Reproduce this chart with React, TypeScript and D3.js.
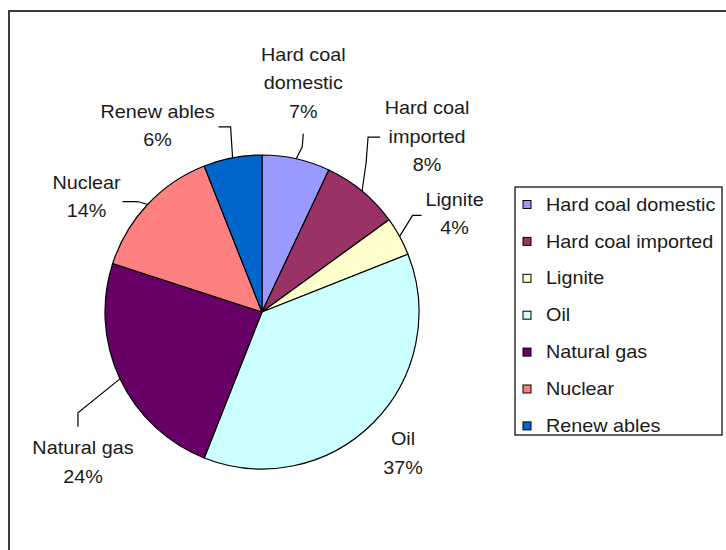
import React, { useRef, useEffect } from 'react';
import * as d3 from 'd3';

// energy mix shares, clockwise from 12 o'clock
const sources = ['Hard coal domestic', 'Hard coal imported', 'Lignite', 'Oil', 'Natural gas', 'Nuclear', 'Renewables'];
const shares = [7, 8, 4, 37, 24, 14, 6];
const labelLines = [
  ['Hard coal', 'domestic'],
  ['Hard coal', 'imported'],
  ['Lignite'],
  ['Oil'],
  ['Natural gas'],
  ['Nuclear'],
  ['Renew ables'],
];
const legendNames = ['Hard coal domestic', 'Hard coal imported', 'Lignite', 'Oil', 'Natural gas', 'Nuclear', 'Renew ables'];
const colors = ['#9999ff', '#993366', '#ffffcc', '#ccffff', '#660066', '#ff8080', '#0066cc'];

// label offsets (from the slice's outer mid point) and leader elbows
const labelOffset: [number, number][] = [[7, -104], [65, -83], [55, -37], [30, 16], [-37, 69], [-61, -22], [-75, -46]];
const leaderPts: [number, number][][] = [
  [[6, -12], [7, -25]],
  [[4, -28], [6, -54], [18, -54]],
  [[13, -21], [22, -21]],
  [],
  [[-42, 34], [-42, 48]],
  [[-10, -3], [-25, -3]],
  [[-2, -31], [-14, -31]],
];

const W = 726;
const H = 550;
const FONT = '"Liberation Sans", Arial, sans-serif';
const SX = 1.1; // text in the reference is a bit wide

const App = () => {
  const svgRef = useRef<SVGSVGElement>(null);

  useEffect(() => {
    const svg = d3.select(svgRef.current);
    svg.selectAll('*').remove();

    // outer frame (runs off the right and bottom)
    svg.append('rect')
      .attr('x', 9).attr('y', 11)
      .attr('width', W + 20).attr('height', H + 20)
      .attr('fill', '#fff')
      .attr('stroke', '#3a3a3a')
      .attr('stroke-width', 2);

    const cx = 262, cy = 312, r = 157;
    const data = sources.map((s, i) => ({ name: s, value: shares[i], i }));
    const pie = d3.pie<any>().sort(null).value(d => d.value);
    const arcs = pie(data);
    const arc = d3.arc<any>().innerRadius(0).outerRadius(r);
    const edge = d3.arc<any>().innerRadius(r).outerRadius(r);

    const g = svg.append('g').attr('transform', `translate(${cx},${cy})`);

    g.selectAll('path.slice')
      .data(arcs)
      .enter().append('path')
      .attr('class', 'slice')
      .attr('d', arc)
      .attr('fill', d => colors[d.data.i])
      .attr('stroke', '#000')
      .attr('stroke-width', 1.2)
      .attr('stroke-linejoin', 'round');

    // leader lines
    arcs.forEach(a => {
      const pts = leaderPts[a.data.i];
      if (!pts.length) return;
      const [ex, ey] = edge.centroid(a);
      const line = d3.line()([[ex, ey], ...pts.map(p => [ex + p[0], ey + p[1]] as [number, number])]);
      g.append('path')
        .attr('d', line)
        .attr('fill', 'none')
        .attr('stroke', '#000')
        .attr('stroke-width', 1.2);
    });

    // data labels
    arcs.forEach(a => {
      const [ex, ey] = edge.centroid(a);
      const [dx, dy] = labelOffset[a.data.i];
      const lines = [...labelLines[a.data.i], `${a.data.value}%`];
      const t = g.append('g')
        .attr('transform', `translate(${ex + dx},${ey + dy}) scale(${SX},1)`);
      lines.forEach((ln, k) => {
        t.append('text')
          .attr('x', 0)
          .attr('y', k * 28.5)
          .attr('text-anchor', 'middle')
          .attr('dominant-baseline', 'central')
          .style('font-family', FONT)
          .style('font-size', '18px')
          .attr('fill', '#1a1a1a')
          .text(ln);
      });
    });

    // legend
    const lx = 515, ly = 187, lw = 207, lh = 248, step = 36.9;
    const leg = svg.append('g');
    leg.append('rect')
      .attr('x', lx).attr('y', ly)
      .attr('width', lw).attr('height', lh)
      .attr('fill', '#fff')
      .attr('stroke', '#000')
      .attr('stroke-width', 1.2);

    legendNames.forEach((name, i) => {
      const y = ly + 17.5 + i * step;
      leg.append('rect')
        .attr('x', lx + 8).attr('y', y - 4)
        .attr('width', 8).attr('height', 8)
        .attr('fill', colors[i])
        .attr('stroke', '#000')
        .attr('stroke-width', 1);
      leg.append('text')
        .attr('transform', `translate(${lx + 31},${y}) scale(${SX},1)`)
        .attr('dominant-baseline', 'central')
        .style('font-family', FONT)
        .style('font-size', '18px')
        .attr('fill', '#1a1a1a')
        .text(name);
    });
  }, []);

  return (
    <svg
      ref={svgRef}
      width={W}
      height={H}
      style={{ position: 'absolute', left: 0, top: 0, background: '#fff' }}
    />
  );
};

export default App;
